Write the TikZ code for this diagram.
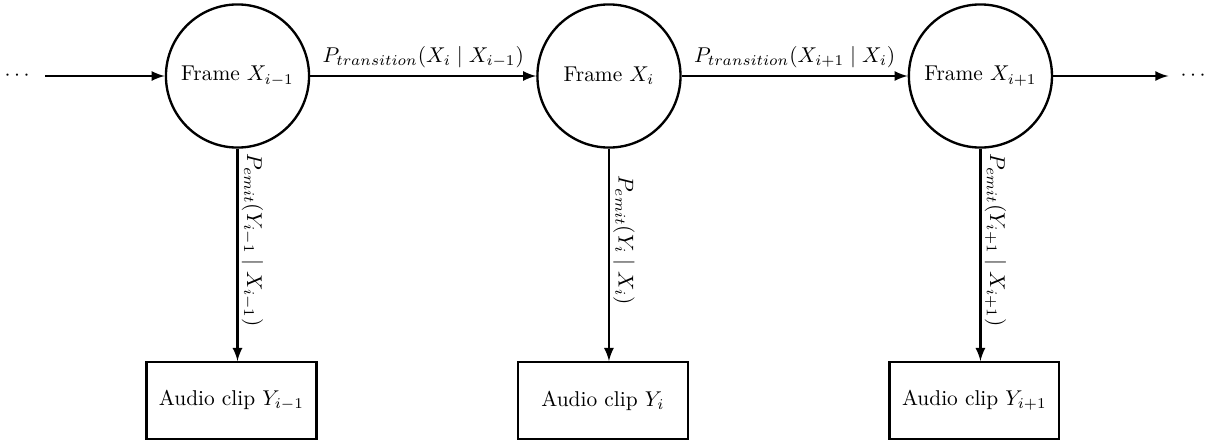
\documentclass[tikz,border=0pt]{standalone}
\usepackage{amsmath}
\usetikzlibrary{arrows, positioning}

\begin{document}
\begin{tikzpicture}[
        framenode/.style={circle, draw, line width=1.1pt, minimum size=2.35cm, inner sep=0pt},
        audiobox/.style={rectangle, draw, line width=1.1pt, minimum width=2.79cm, minimum height=1.26cm},
        dotsnode/.style={inner sep=5.5pt},
        link/.style={-latex, line width=1.1pt},
        emitlabel/.style={pos=0.43, sloped, above, inner sep=1.5pt}
    ]
        \useasboundingbox (0,1.248) rectangle (19.87,-6.01);

        \node[dotsnode] (dotsL) at (0.31,0) {$\cdots$};
        \node[framenode] (frame1) at (3.9,0) {Frame $X_{i-1}$};
        \node[framenode] (frame2) at (10.0,0) {Frame $X_{i}$};
        \node[framenode] (frame3) at (16.1,0) {Frame $X_{i+1}$};
        \node[dotsnode] (dotsR) at (19.62,0) {$\cdots$};

        \node[audiobox] (audio1) at (3.8,-5.33) {Audio clip $Y_{i-1}$};
        \node[audiobox] (audio2) at (9.9,-5.33) {Audio clip $Y_{i}$};
        \node[audiobox] (audio3) at (16.0,-5.33) {Audio clip $Y_{i+1}$};

        \draw[link] (dotsL) -- (frame1);
        \draw[link] (frame1) -- node[above] {$P_{transition}(X_i \mid X_{i-1})$} (frame2);
        \draw[link] (frame2) -- node[above] {$P_{transition}(X_{i+1} \mid X_i)$} (frame3);
        \draw[link] (frame3) -- (dotsR);

        \draw[link] (frame1) -- node[emitlabel] {$P_{emit}(Y_{i-1} \mid X_{i-1})$} (frame1 |- audio1.north);
        \draw[link] (frame2) -- node[emitlabel] {$P_{emit}(Y_i \mid X_i)$} (frame2 |- audio2.north);
        \draw[link] (frame3) -- node[emitlabel] {$P_{emit}(Y_{i+1} \mid X_{i+1})$} (frame3 |- audio3.north);
\end{tikzpicture}
\end{document}
